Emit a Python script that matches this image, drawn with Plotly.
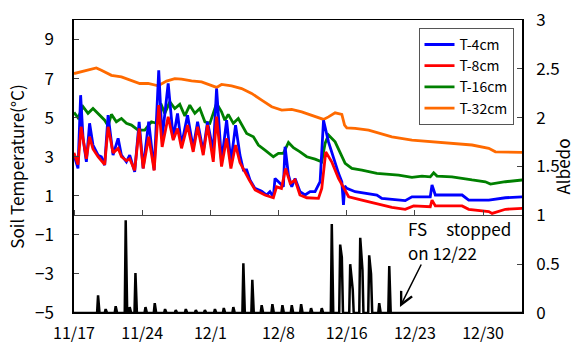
import plotly.graph_objects as go

# x values: days since 11/17
tick_days = [0, 7, 14, 21, 28, 35, 42]
tick_labels = ["11/17", "11/24", "12/1", "12/8", "12/16", "12/23", "12/30"]

t32_day = [0, 2.29, 2.81, 3.84, 4.87, 5.90, 6.75, 7.61, 8.64, 9.50, 10.35, 11.04, 12.07, 13.10,
           14.13, 14.64, 15.15, 16.18, 17.21, 18.24, 19.27, 20.30, 21.33, 22.36, 23.38, 24.41,
           25.62, 26.13, 26.81, 27.50, 27.78, 28.01, 28.87, 30.25, 31.10, 32.64, 34.70, 36.76,
           38.81, 40.87, 42.59, 43.27, 46.02]
t32_val = [7.26, 7.55, 7.43, 7.17, 7.09, 6.92, 6.75, 6.75, 6.63, 6.87, 7.0, 6.97, 6.88, 6.83,
           6.66, 6.55, 6.70, 6.63, 6.49, 6.24, 5.90, 5.56, 5.39, 5.42, 5.30, 5.13,
           4.91, 5.04, 5.25, 5.17, 4.62, 4.48, 4.45, 4.36, 4.25, 4.02, 3.85, 3.76,
           3.68, 3.60, 3.43, 3.25, 3.22]

t16_day = [0, 0.41, 0.93, 1.44, 1.95, 2.63, 3.15, 3.50, 3.84, 4.35, 4.87, 5.38, 5.90, 6.58,
           7.26, 7.95, 8.47, 8.91, 9.32, 9.84, 10.35, 10.86, 11.38, 11.89, 12.41, 12.92, 13.44,
           13.95, 14.64, 15.15, 15.49, 15.84, 16.36, 16.87, 17.73, 18.42, 18.93, 19.61, 20.47,
           20.99, 21.50, 22.02, 22.53, 23.21, 23.90, 24.75, 25.44, 25.78, 26.13, 26.81, 27.50,
           27.84, 28.53, 29.56, 31.10, 31.95, 33.33, 34.70, 35.73, 36.58, 36.93, 37.27, 38.81,
           40.87, 42.24, 42.76, 44.30, 46.02]
t16_val = [5.27, 4.99, 5.56, 5.22, 5.47, 5.13, 4.87, 4.58, 5.17, 4.79, 4.96, 4.71, 4.62, 4.36,
           4.36, 4.79, 4.71, 5.73, 5.22, 5.81, 5.47, 5.68, 5.09, 5.64, 5.22, 5.47, 4.79,
           4.71, 5.73, 5.30, 4.87, 5.17, 4.71, 4.96, 4.19, 4.02, 3.60, 3.34, 3.00,
           3.17, 3.17, 3.73, 3.46, 3.25, 3.00, 2.88, 2.74, 3.68, 4.11, 3.76, 3.08,
           2.66, 2.40, 2.32, 2.15, 2.11, 2.06, 1.94, 2.01, 1.97, 2.18, 2.01, 1.97,
           1.81, 1.72, 1.60, 1.72, 1.81]

t4_day = [0, 0.41, 0.68, 0.93, 1.27, 1.60, 1.95, 2.47, 2.81, 3.15, 3.50, 4.01, 4.53, 4.87,
          5.38, 5.72, 6.23, 6.69, 7.10, 7.67, 8.23, 8.70, 9.05, 9.67, 10.19, 10.63, 11.04,
          11.66, 12.24, 12.69, 13.27, 13.71, 14.30, 14.64, 15.15, 15.67, 16.11, 16.59, 17.04,
          17.39, 17.73, 18.07, 18.58, 19.27, 19.78, 20.12, 20.47, 20.64, 21.15, 21.50, 21.67,
          22.02, 22.36, 22.70, 23.21, 23.72, 24.24, 24.75, 25.27, 25.62, 26.13, 26.65, 27.16,
          27.50, 27.67, 27.80, 28.01, 28.87, 29.90, 31.10, 31.61, 32.98, 34.01, 34.70, 36.58,
          36.76, 37.10, 39.85, 40.53, 42.59, 44.30, 46.02]
t4_val = [3.08, 2.40, 6.15, 3.94, 2.74, 4.71, 3.60, 3.08, 3.00, 2.57, 5.13, 3.08, 3.94, 3.08,
          2.74, 3.08, 2.23, 4.79, 2.40, 4.79, 2.32, 7.43, 3.94, 6.75, 3.94, 5.22, 3.60,
          5.13, 3.43, 4.79, 3.25, 4.79, 3.25, 6.49, 2.74, 4.87, 2.74, 4.62, 3.08,
          2.32, 2.32, 1.81, 1.38, 1.24, 1.04, 1.21, 0.95, 1.89, 1.64, 1.46, 3.51,
          2.06, 1.46, 1.89, 1.21, 1.04, 1.21, 1.21, 1.72, 4.87, 3.76, 2.91, 2.15,
          1.72, 0.53, 1.50, 1.38, 1.21, 1.12, 1.04, 0.87, 0.78, 0.75, 0.95, 0.95,
          1.55, 1.04, 1.04, 0.78, 0.78, 0.90, 0.95]

t8_day = [0, 0.41, 0.73, 1.27, 1.60, 1.95, 2.47, 3.15, 3.50, 4.01, 4.53, 4.87, 5.38, 5.72,
          6.23, 6.69, 7.10, 7.67, 8.23, 8.70, 9.05, 9.67, 10.19, 10.63, 11.04, 11.66, 12.24,
          12.69, 13.27, 13.71, 14.30, 14.64, 15.15, 15.67, 16.11, 16.59, 17.04, 17.50, 18.00,
          18.60, 19.60, 20.47, 20.80, 21.30, 21.73, 22.20, 22.70, 23.20, 23.90, 25.10, 25.44,
          25.85, 26.46, 27.16, 27.67, 28.20, 29.56, 31.10, 32.64, 34.01, 34.87, 36.58, 36.76,
          37.10, 39.85, 40.53, 42.59, 42.93, 44.30, 46.02]
t8_val = [3.20, 2.60, 4.53, 2.90, 4.02, 3.40, 3.00, 2.60, 4.53, 3.20, 3.43, 3.00, 2.80, 2.90,
          2.30, 4.45, 2.40, 4.02, 2.30, 5.64, 3.50, 5.05, 3.85, 4.45, 3.43, 4.62, 3.25,
          4.53, 3.08, 4.62, 2.74, 5.05, 2.50, 3.94, 2.40, 3.60, 2.70, 2.23, 1.80,
          1.30, 1.04, 0.90, 1.46, 1.38, 2.40, 1.64, 1.81, 1.04, 0.90, 0.87, 1.38,
          3.25, 2.74, 1.89, 1.46, 0.95, 0.78, 0.61, 0.41, 0.31, 0.48, 0.44, 0.78,
          0.48, 0.48, 0.31, 0.19, 0.10, 0.31, 0.36]

albedo_day = [0, 2.37, 2.47, 2.62, 3.15, 3.25, 3.40, 4.18, 4.28, 4.43, 5.21, 5.31, 5.46, 5.62,
              5.72, 5.87, 6.21, 6.31, 6.46, 7.24, 7.34, 7.49, 8.19, 8.29, 8.44, 9.25, 9.35,
              9.50, 10.35, 10.45, 10.60, 11.38, 11.48, 11.63, 12.41, 12.51, 12.66, 13.34, 13.44,
              13.59, 14.37, 14.47, 14.62, 15.28, 15.38, 15.53, 16.26, 16.36, 16.51, 17.29, 17.39,
              17.54, 18.21, 18.31, 18.46, 19.17, 19.27, 19.42, 20.27, 20.37, 20.52, 21.30, 21.40,
              21.55, 22.26, 22.36, 22.51, 23.22, 23.32, 23.47, 24.24, 24.34, 24.49, 25.34, 25.44,
              25.59, 26.37, 26.47, 26.62, 27.23, 27.33, 27.50, 27.62, 28.26, 28.36, 28.62, 28.72,
              29.29, 29.39, 29.62, 29.72, 30.21, 30.31, 30.50, 30.62, 31.24, 31.34, 31.49, 32.27,
              32.37, 32.52, 46.02]
albedo_val = [0, 0, 0.18, 0, 0, 0.04, 0, 0, 0.07, 0, 0, 0.95, 0, 0,
              0.06, 0, 0, 0.41, 0, 0, 0.06, 0, 0, 0.10, 0, 0, 0.04,
              0, 0, 0.03, 0, 0, 0.04, 0, 0, 0.03, 0, 0, 0.03,
              0, 0, 0.04, 0, 0, 0.05, 0, 0, 0.06, 0, 0, 0.51,
              0, 0, 0.34, 0, 0, 0.08, 0, 0, 0.09, 0, 0, 0.08,
              0, 0, 0.08, 0, 0, 0.09, 0, 0, 0.05, 0, 0, 0.05,
              0, 0, 0.91, 0, 0, 0.70, 0.57, 0, 0, 0.50, 0.24, 0,
              0, 0.77, 0.44, 0, 0, 0.59, 0.40, 0, 0, 0.10, 0, 0,
              0.48, 0, 0]

FONT = "Noto Sans CJK JP"

fig = go.Figure()
# helper trace so the divider axis (x2) is drawn; its points are outside the y range
fig.add_trace(go.Scatter(x=[0, 46], y=[-100, -100], xaxis="x2", yaxis="y", mode="lines",
                         showlegend=False, hoverinfo="skip", line=dict(width=0)))
fig.add_trace(go.Scatter(x=albedo_day, y=albedo_val, mode="lines", yaxis="y2",
                         line=dict(color="black", width=2.5), showlegend=False))
fig.add_trace(go.Scatter(x=t32_day, y=t32_val, mode="lines", name="T-32cm", legendrank=4,
                         line=dict(color="#FF6A00", width=2.8)))
fig.add_trace(go.Scatter(x=t16_day, y=t16_val, mode="lines", name="T-16cm", legendrank=3,
                         line=dict(color="#008000", width=2.8)))
fig.add_trace(go.Scatter(x=t4_day, y=t4_val, mode="lines", name="T-4cm", legendrank=1,
                         line=dict(color="#0000FF", width=2.8)))
fig.add_trace(go.Scatter(x=t8_day, y=t8_val, mode="lines", name="T-8cm", legendrank=2,
                         line=dict(color="#FF0000", width=2.8)))

fig.update_layout(
    width=575, height=347,
    margin=dict(l=74, r=53, t=20, b=34, autoexpand=False),
    paper_bgcolor="white", plot_bgcolor="white",
    font=dict(family=FONT, size=17, color="black"),
    legend=dict(x=0.875, y=0.973, xanchor="center", yanchor="top",
                bgcolor="white", bordercolor="#555", borderwidth=1,
                font=dict(size=14), traceorder="normal",
                itemwidth=30, tracegroupgap=0),
    xaxis=dict(range=[0, 46], tickvals=tick_days, ticktext=tick_labels, ticks="",
               ticklabelstandoff=6, automargin=False, tickfont=dict(size=16),
               showline=True, linecolor="black", linewidth=1, mirror=True,
               showgrid=False, zeroline=False),
    xaxis2=dict(range=[0, 46], tickvals=tick_days, overlaying="x", anchor="free",
                position=1/3, side="top", ticks="outside", ticklen=5, automargin=False,
                tickcolor="#444", showticklabels=False, showline=True,
                linecolor="#444", linewidth=1, showgrid=False, zeroline=False),
    yaxis=dict(range=[-5, 10], tickvals=[-5, -3, -1, 1, 3, 5, 7, 9], ticks="inside",
               ticklen=5, showline=True, linecolor="black", linewidth=1.5,
               showgrid=False, zeroline=False, automargin=False, ticklabelstandoff=15,
               title=dict(text="Soil Temperature(°C)", font=dict(size=17), standoff=6)),
    yaxis2=dict(range=[0, 3], tickvals=[0, 0.5, 1, 1.5, 2, 2.5, 3],
                ticktext=["0", "0.5", "1", "1.5", "2", "2.5", "3"],
                overlaying="y", side="right", anchor="x", ticks="inside", ticklen=5,
                showline=True, linecolor="black", linewidth=1.5, showgrid=False,
                zeroline=False, automargin=False, ticklabelstandoff=9,
                title=dict(text="Albedo", font=dict(size=17), standoff=3)),
)

fig.add_annotation(x=34.08, y=-0.65, xref="x", yref="y", text="FS     stopped",
                   showarrow=False, xanchor="left", yanchor="middle", font=dict(size=17))
fig.add_annotation(x=34.08, y=-1.90, xref="x", yref="y", text="on 12/22",
                   showarrow=False, xanchor="left", yanchor="middle", font=dict(size=17))
fig.add_annotation(x=33.47, y=-4.69, xref="x", yref="y", ax=35.73, ay=-2.44,
                   axref="x", ayref="y", text="", showarrow=True, arrowhead=5,
                   arrowsize=1.6, arrowwidth=1.5, arrowcolor="black")

fig.write_html("out.html", config={"displayModeBar": False},
               post_script="document.body.style.margin='0';document.body.style.padding='0';")
